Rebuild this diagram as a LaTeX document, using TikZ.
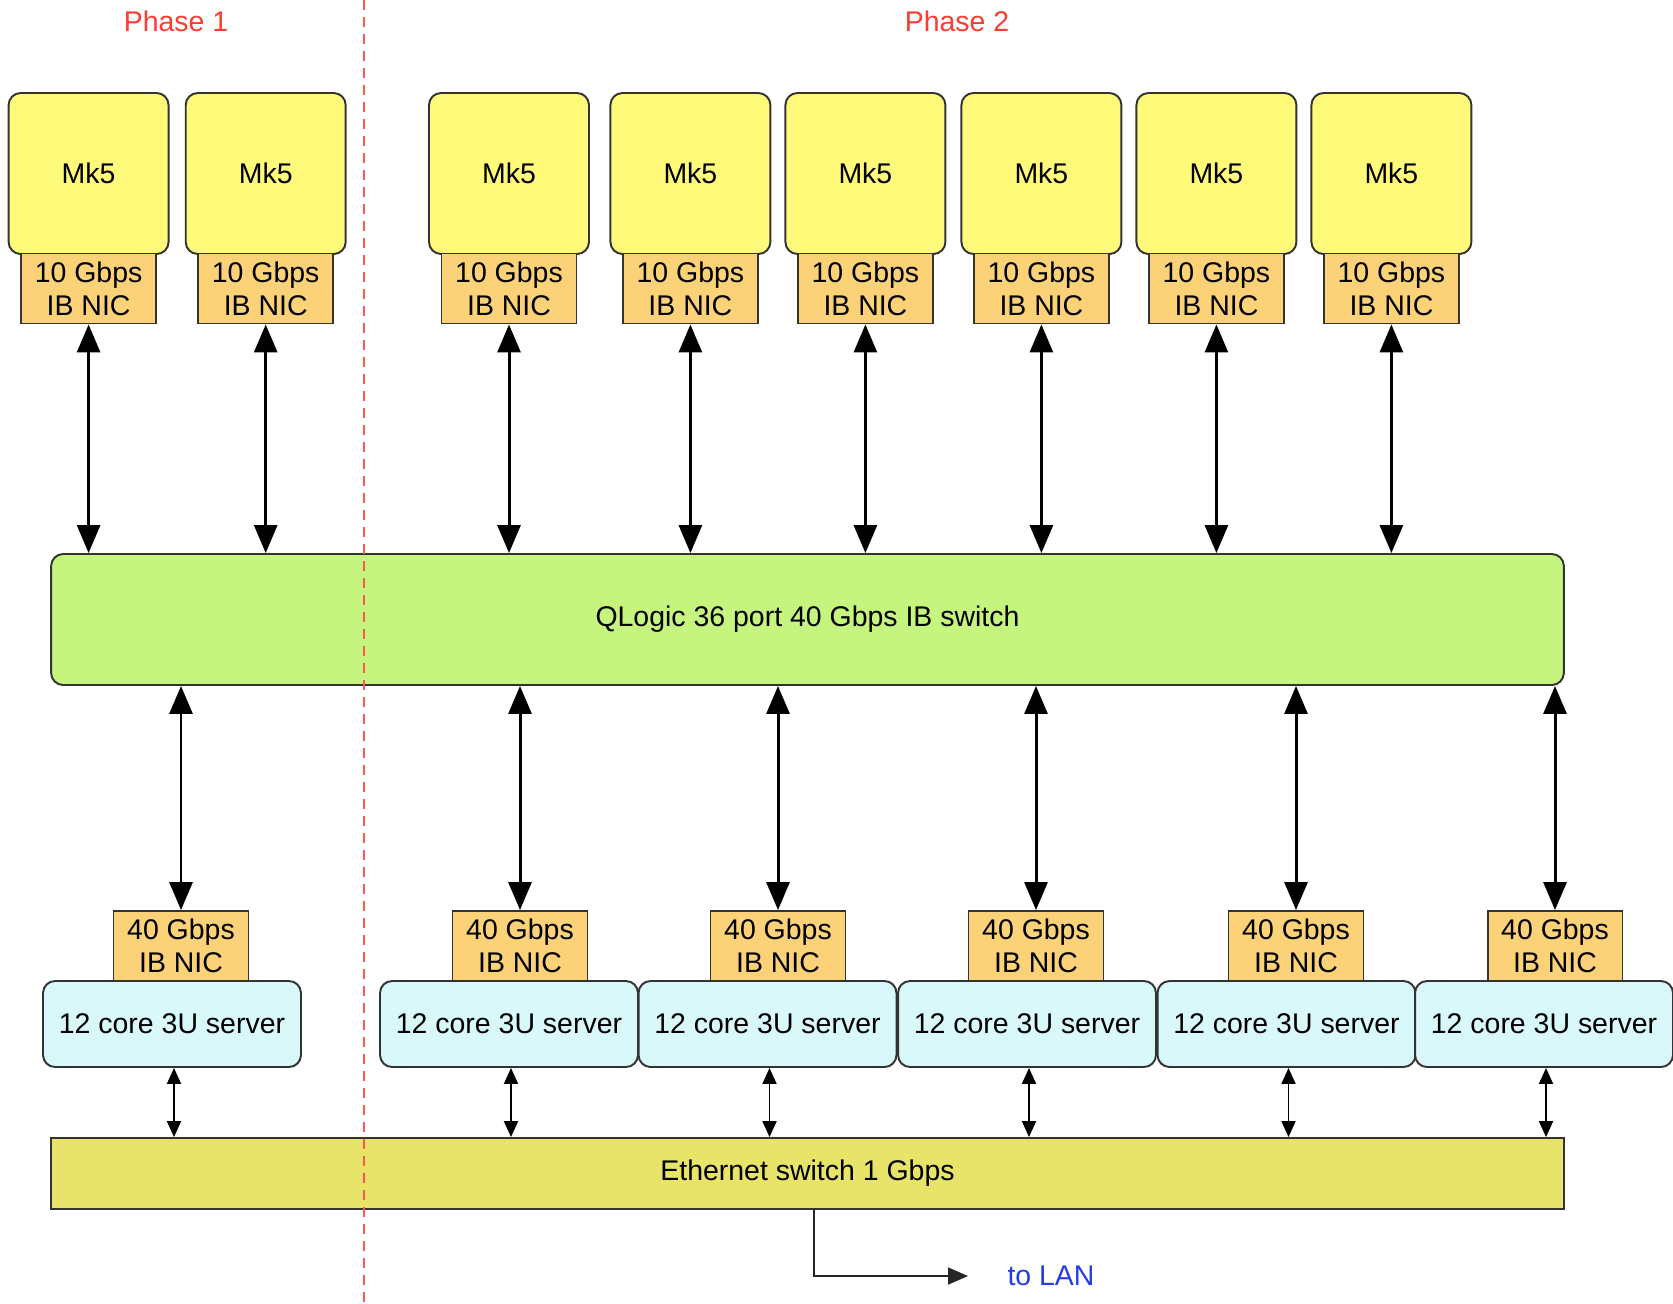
\documentclass[tikz,border=0pt]{standalone}
\usepackage{fontspec}
\setmainfont{Liberation Sans}
\usetikzlibrary{arrows.meta}
\definecolor{mkyellow}{RGB}{255,250,122}
\definecolor{nicorange}{RGB}{252,210,120}
\definecolor{ibgreen}{RGB}{198,245,127}
\definecolor{srvcyan}{RGB}{216,248,250}
\definecolor{ethyellow}{RGB}{232,228,106}
\definecolor{phasered}{RGB}{250,60,50}
\definecolor{lanblue}{RGB}{40,60,230}

\begin{document}
\begin{tikzpicture}[x=0.02cm,y=-0.02cm,font=\fontsize{16.2}{18.8}\selectfont,
  box/.style={draw=black!80,line width=1.1pt,inner sep=0pt,align=center},
  mkbox/.style={box,fill=mkyellow,rounded corners=0.24cm,minimum width=3.2cm,minimum height=3.22cm},
  nicbox/.style={box,fill=nicorange,minimum width=2.7cm,minimum height=1.4cm},
  srvbox/.style={box,fill=srvcyan,rounded corners=0.24cm,minimum width=5.16cm,minimum height=1.72cm},
  ibbox/.style={box,fill=ibgreen,rounded corners=0.24cm,minimum width=30.26cm,minimum height=2.62cm},
  ethbox/.style={box,fill=ethyellow,minimum width=30.26cm,minimum height=1.42cm},
  bigarrow/.style={{Triangle[length=0.56cm,width=0.46cm]}-{Triangle[length=0.56cm,width=0.46cm]},line width=1.7pt},
  smallarrow/.style={{Triangle[length=0.32cm,width=0.28cm]}-{Triangle[length=0.32cm,width=0.28cm]},line width=1.1pt},
  lanarrow/.style={-{Triangle[length=0.4cm,width=0.34cm]},line width=0.9pt,black!85}]
  \useasboundingbox (0,0) rectangle (1673,1303);
  % labels on top
  \node[text=phasered] (ph1) at (176,21) {Phase 1};
  \node[text=phasered] (ph2) at (957,21) {Phase 2};
  % Mk5 units
  \foreach \i/\x in {1/88.6,2/265.7,3/509,4/690.4,5/865.4,6/1041.4,7/1216.4,8/1391.4} {
    \node[mkbox] (mk\i) at (\x,173.5) {Mk5};
    \node[nicbox] (nic\i) at (\x,288.5) {10 Gbps\\IB NIC};
  }
  \node[ibbox] (ib) at (807.5,619.5) {QLogic 36 port 40 Gbps IB switch};
  \foreach \i in {1,...,8}
    \draw[bigarrow] (nic\i.south) -- (nic\i.south |- ib.north);
  % servers
  \foreach \i/\x/\n in {1/172/181,2/509/520,3/767.5/778,4/1027/1036,5/1286.5/1296,6/1544/1555} {
    \node[nicbox] (snic\i) at (\n,946) {40 Gbps\\IB NIC};
    \node[srvbox] (srv\i) at (\x,1024) {12 core 3U server};
  }
  \foreach \i in {1,...,6}
    \draw[bigarrow] (snic\i.north |- ib.south) -- (snic\i.north);
  \node[ethbox] (eth) at (807.5,1173.5) {Ethernet switch 1 Gbps};
  \foreach \i in {1,...,6}
    \draw[smallarrow] ([xshift=0.04cm]srv\i.south) -- ([xshift=0.04cm]srv\i.south |- eth.north);
  % uplink
  \coordinate (lan) at (968,1276);
  \draw[lanarrow] ([xshift=0.13cm]eth.south) |- (lan);
  \node[text=lanblue] (tolan) at (1051,1276) {to LAN};
  % phase boundary
  \draw[phasered!85,line width=0.9pt,dash pattern=on 0.2cm off 0.14cm] (364,0) -- (364,1303);
\end{tikzpicture}
\end{document}
